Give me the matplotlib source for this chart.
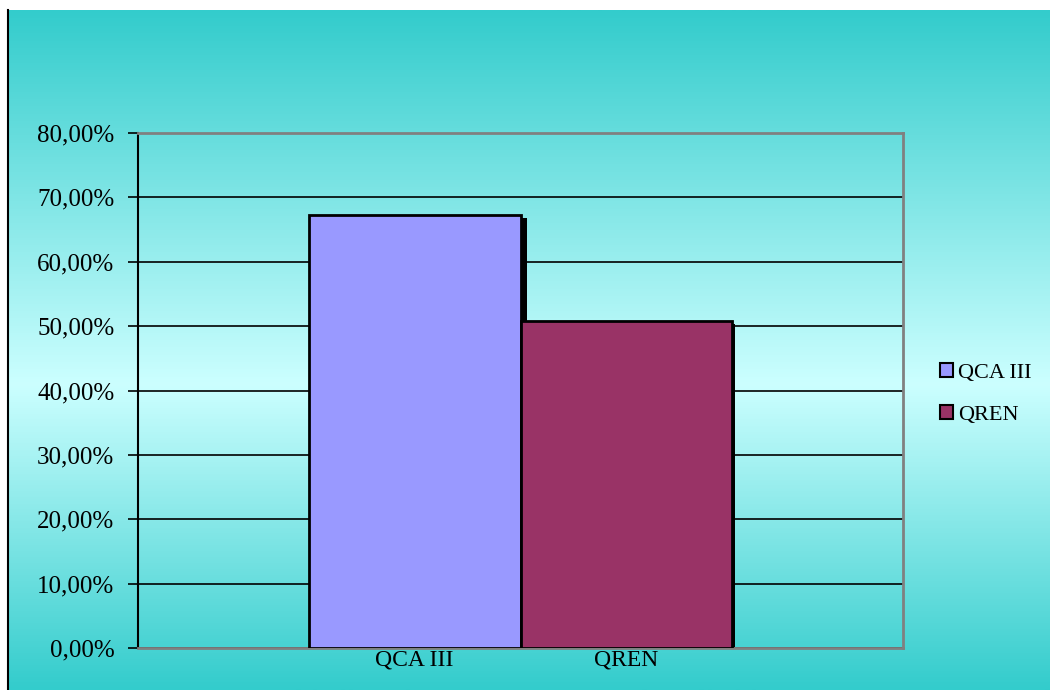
import matplotlib
matplotlib.use('Agg')
import matplotlib.pyplot as plt
import matplotlib.transforms as mtransforms
from matplotlib.colors import LinearSegmentedColormap
from matplotlib.patches import Patch
import numpy as np

plt.rcParams['font.family'] = ['Liberation Serif', 'DejaVu Serif']

categories = ['QCA III', 'QREN']
values = [67.3, 50.8]
bar_colors = ['#9999FF', '#993366']
yticks = [0, 10, 20, 30, 40, 50, 60, 70, 80]
ytick_labels = ['0,00%', '10,00%', '20,00%', '30,00%', '40,00%',
                '50,00%', '60,00%', '70,00%', '80,00%']

fig = plt.figure(figsize=(10.5, 6.9), dpi=100)
fig.patch.set_facecolor('white')

# gradient background (teal -> light cyan -> teal)
bg = fig.add_axes([8/1050, 0, 1 - 8/1050, 680/690])
grad_cmap = LinearSegmentedColormap.from_list(
    'bg', [(0, '#33CCCC'), (0.55, '#CCFFFF'), (1, '#33CCCC')])
bg.imshow(np.linspace(0, 1, 256).reshape(-1, 1), aspect='auto', cmap=grad_cmap,
          extent=[0, 1, 0, 1])
bg.set_axis_off()
fig.add_artist(plt.Line2D([8/1050, 8/1050], [0, 680/690], color='black', lw=1.5))

# plot area
left, right, top, bottom = 138, 903, 133, 648
ax = fig.add_axes([left/1050, 1 - bottom/690, (right-left)/1050, (bottom-top)/690])
ax.patch.set_alpha(0)

x = np.arange(len(categories))
# drop shadows behind the bars
for xi, v, off in zip(x, values, [6, 3]):
    shadow = mtransforms.offset_copy(ax.transData, fig=fig, x=off, y=-3, units='dots')
    ax.bar(xi, v, width=1.0, color='black', transform=shadow, zorder=2)
ax.bar(x, values, width=1.0, color=bar_colors, edgecolor='black', linewidth=2, zorder=3)

ax.set_xlim(0.5 - 1.805, 0.5 + 1.805)
ax.set_ylim(0, 80)
ax.set_yticks(yticks)
ax.set_yticklabels(ytick_labels, fontsize=18)
ax.set_xticks(x)
ax.set_xticklabels(categories, fontsize=17)
ax.tick_params(axis='x', length=0, pad=1)
ax.tick_params(axis='y', length=7, width=1.2, color='black', pad=10)
ax.grid(axis='y', color='black', linewidth=1.2, zorder=1)
ax.set_axisbelow(True)

for s in ['top', 'right', 'bottom']:
    ax.spines[s].set_color('#808080')
    ax.spines[s].set_linewidth(2)
ax.spines['left'].set_color('black')
ax.spines['left'].set_linewidth(1.5)

handles = [Patch(facecolor=c, edgecolor='black', linewidth=1.5) for c in bar_colors]
fig.legend(handles, categories, loc='center left', bbox_to_anchor=(940/1050, 1 - 394/690),
           frameon=False, fontsize=16, handlelength=0.6, handleheight=0.6,
           handletextpad=0.2, labelspacing=1.0, borderpad=0, borderaxespad=0)

plt.savefig('out.png', dpi=100)
